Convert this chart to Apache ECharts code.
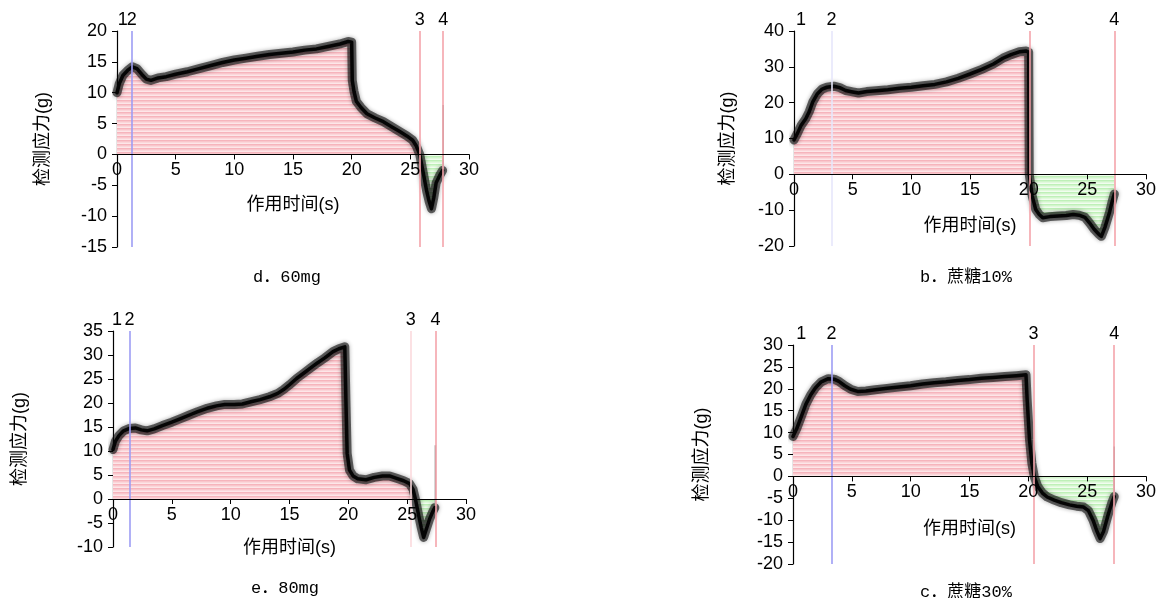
<!DOCTYPE html>
<html>
<head>
<meta charset="utf-8">
<script src="https://cdn.jsdelivr.net/npm/echarts@6/dist/echarts.min.js"></script>
<style>
  html, body { margin: 0; padding: 0; background: #fff; }
  #chart { width: 1157px; height: 598px; }
</style>
</head>
<body>
<div id="chart"></div>
<script>
// Force (g) against action time (s), one trace per sample: [time, force]
const force60mg = [
  [0, 10], [0.2, 11.5], [0.5, 12.8], [0.9, 13.6], [1.3, 14.2], [1.7, 13.9], [2.1, 13], [2.5, 12.2],
  [2.9, 12], [3.5, 12.4], [4.2, 12.6], [5, 13], [6, 13.4], [7, 13.9], [8, 14.4], [9, 14.9], [10, 15.3],
  [11, 15.6], [12, 15.9], [13, 16.2], [14, 16.4], [15, 16.6], [16, 16.9], [17, 17.1], [18, 17.5],
  [19, 17.9], [19.7, 18.3], [20, 18.2], [20.05, 12], [20.2, 10.2], [20.4, 8.6], [20.8, 7.6], [21.3, 6.6],
  [22, 5.9], [22.7, 5.3], [23.4, 4.5], [24.1, 3.7], [24.7, 3], [25.2, 2.3], [25.5, 1.4], [25.8, 0],
  [26.1, -3], [26.4, -6], [26.6, -7.6], [26.8, -8.8], [27, -7], [27.2, -4.6], [27.5, -3.4], [27.75, -2.6]
];
const sucrose10 = [
  [0, 9.6], [0.3, 11.5], [0.6, 13.6], [1.0, 15.5], [1.3, 17.5], [1.6, 20.2], [2.0, 22.5], [2.4, 23.8],
  [2.8, 24.3], [3.4, 24.6], [3.9, 24.2], [4.4, 23.4], [5, 23], [5.5, 22.7], [6.2, 23.1], [7, 23.3],
  [8, 23.6], [9, 24], [10, 24.3], [11, 24.7], [12, 25.1], [13, 25.8], [14, 26.8], [15, 28], [16, 29.3],
  [17, 30.8], [17.8, 32.4], [18.5, 33.4], [19.2, 34.2], [19.8, 34.4], [20, 34.1], [20.05, 0], [20.3, -6],
  [20.6, -9.8], [20.9, -11.2], [21.2, -12.1], [21.8, -11.8], [22.5, -11.6], [23.2, -11.5], [23.8, -11.2],
  [24.3, -11.4], [24.8, -12], [25.2, -13.6], [25.6, -15.4], [26.0, -16.8], [26.2, -17.3], [26.5, -14.8],
  [26.9, -10.5], [27.1, -7.8], [27.3, -5.5]
];
const force80mg = [
  [0, 10.3], [0.2, 12], [0.5, 13.2], [0.9, 14.2], [1.4, 14.7], [1.9, 14.8], [2.4, 14.4], [2.9, 14.2],
  [3.5, 14.6], [4.2, 15.3], [5, 16], [5.8, 16.8], [6.5, 17.5], [7.2, 18.2], [8, 18.9], [8.8, 19.4],
  [9.5, 19.7], [10.3, 19.7], [11, 19.8], [11.8, 20.3], [12.5, 20.7], [13.3, 21.3], [14, 22], [14.5, 22.8],
  [15, 23.8], [15.6, 25.1], [16.2, 26.2], [16.8, 27.3], [17.4, 28.4], [18, 29.4], [18.7, 30.7],
  [19.2, 31.3], [19.7, 31.7], [19.8, 20], [19.9, 9.5], [20.1, 6], [20.4, 4.8], [20.8, 4.2], [21.5, 4],
  [22.2, 4.5], [22.9, 4.8], [23.5, 4.8], [24.1, 4.3], [24.7, 3.8], [25.2, 3.2], [25.5, 2], [25.7, 0],
  [26.0, -3.7], [26.2, -6], [26.4, -8], [26.6, -6.5], [26.9, -4.2], [27.2, -2.5], [27.35, -1.8]
];
const sucrose30 = [
  [0, 9.1], [0.3, 10.8], [0.6, 12.9], [1.1, 16.5], [1.5, 18.6], [1.9, 20.2], [2.4, 21.6], [3.0, 22.3],
  [3.5, 22.2], [3.9, 21.7], [4.4, 20.7], [4.9, 19.9], [5.5, 19.4], [6.2, 19.5], [7, 19.8], [8, 20.1],
  [9, 20.4], [10, 20.7], [11, 21.1], [12, 21.4], [13, 21.6], [14, 21.9], [15, 22.1], [16, 22.4],
  [17, 22.6], [18, 22.8], [19, 23], [19.8, 23.2], [19.9, 17.5], [20.1, 8.4], [20.3, 3], [20.5, 0],
  [20.8, -2.3], [21.2, -3.8], [21.6, -4.7], [22.2, -5.4], [22.8, -6], [23.5, -6.5], [24.1, -6.8],
  [24.7, -7], [25.1, -7.8], [25.5, -10], [25.8, -12.3], [26.1, -14.2], [26.4, -12.5], [26.8, -8.6],
  [27.1, -6], [27.3, -4.6]
];

// Release spike recorded at the end of each run
const spike60mg = [[27.8, -2.6], [27.8, 8]];
const spike80mg = [[27.4, -1.8], [27.4, 11.2]];
const spike30 = [[27.3, -4.6], [27.3, 6.8]];

// Event markers 1-4 (time, s)
const markerNames = ['1', '2', '3', '4'];
const markers60mg = [0.5, 1.25, 25.8, 27.8];
const markers10 = [0.6, 3.2, 20.05, 27.3];
const markers80mg = [0.35, 1.4, 25.3, 27.4];
const markers30 = [0.7, 3.27, 20.45, 27.3];

// Axis ranges [min, max, interval]
const yRange60mg = [-15, 20, 5];
const yRange10 = [-20, 40, 10];
const yRange80mg = [-10, 35, 5];
const yRange30 = [-20, 30, 5];
const xRange = [0, 30, 5];

const xTitle = '作用时间(s)';
const yTitle = '检测应力(g)';
const captions = ['d．60mg', 'b．蔗糖10%', 'e．80mg', 'c．蔗糖30%'];

const FONT = '"Liberation Sans", Arial, "Noto Sans CJK SC", sans-serif';
const MONO = '"Liberation Mono", "Noto Sans CJK SC", monospace';

// striped fills for the area above / below zero
function stripes(rows) {
  const c = document.createElement('canvas');
  c.width = 4; c.height = rows.length;
  const g = c.getContext('2d');
  rows.forEach((col, i) => { g.fillStyle = col; g.fillRect(0, i, 4, 1); });
  return { image: c, repeat: 'repeat' };
}
const pinkFill = stripes(['#f6b4bc', '#f9c6cc', '#fbd6da', '#fde6e8']);
const greenFill = stripes(['#bff0b8', '#d2f6cc', '#e2f9dd', '#f1fdef']);

const BLUE = '#9d9df4', LAV = '#e6e6fb', PINK = '#f4a4ab', PALE = '#fbdadd', NONE = 'rgba(0,0,0,0)';

const panels = [
  { grid: { left: 117, top: 31, width: 352, height: 216 }, y: yRange60mg, data: force60mg, spike: spike60mg,
    markers: markers60mg, markerColors: [NONE, BLUE, PINK, PINK], gapY: 65, gapX: 42, cap: [287, 277] },
  { grid: { left: 794, top: 31, width: 352, height: 215 }, y: yRange10, data: sucrose10, spike: null,
    markers: markers10, markerColors: [NONE, LAV, PINK, PINK], gapY: 57, gapX: 43, cap: [966, 277] },
  { grid: { left: 113, top: 331, width: 353, height: 216 }, y: yRange80mg, data: force80mg, spike: spike80mg,
    markers: markers80mg, markerColors: [NONE, BLUE, PALE, PINK], gapY: 84, gapX: 40, cap: [285, 588] },
  { grid: { left: 793, top: 345, width: 353, height: 219 }, y: yRange30, data: sucrose30, spike: spike30,
    markers: markers30, markerColors: [NONE, BLUE, PINK, PINK], gapY: 82, gapX: 44, cap: [966, 592] }
];

const grids = [], xAxes = [], yAxes = [], series = [], graphics = [];

panels.forEach((p, i) => {
  grids.push(Object.assign({ containLabel: false, outerBoundsMode: 'none' }, p.grid));
  // the time axis (with its labels) sits on the zero force line
  const zeroLift = p.grid.height * (0 - p.y[0]) / (p.y[1] - p.y[0]);
  xAxes.push({
    type: 'value', gridIndex: i, min: xRange[0], max: xRange[1], interval: xRange[2],
    position: 'bottom', offset: -zeroLift,
    name: xTitle, nameLocation: 'middle', nameGap: p.gapX, nameMoveOverlap: false,
    nameTextStyle: { color: '#000', fontSize: 18, fontFamily: FONT },
    axisLine: { show: true, onZero: false, lineStyle: { color: '#000', width: 1.2 } },
    axisTick: { show: true, length: 5, lineStyle: { color: '#000' } },
    axisLabel: { color: '#000', fontSize: 18, fontFamily: FONT, margin: 7 },
    splitLine: { show: false }, z: 5
  });
  yAxes.push({
    type: 'value', gridIndex: i, min: p.y[0], max: p.y[1], interval: p.y[2],
    name: yTitle, nameLocation: 'middle', nameGap: p.gapY, nameMoveOverlap: false,
    nameTextStyle: { color: '#000', fontSize: 18, fontFamily: FONT },
    axisLine: { show: true, onZero: false, lineStyle: { color: '#000', width: 1.2 } },
    axisTick: { show: true, length: 5, lineStyle: { color: '#000' } },
    axisLabel: { color: '#000', fontSize: 18, fontFamily: FONT, margin: 10 },
    splitLine: { show: false }
  });

  const common = { type: 'line', xAxisIndex: i, yAxisIndex: i, showSymbol: false, symbol: 'none', silent: true, animation: false };
  // area above zero
  series.push(Object.assign({}, common, {
    data: p.data.map(d => [d[0], Math.max(d[1], 0)]),
    lineStyle: { width: 0, opacity: 0 },
    areaStyle: { color: pinkFill, opacity: 1 }, z: 1
  }));
  // area below zero
  series.push(Object.assign({}, common, {
    data: p.data.map(d => [d[0], Math.min(d[1], 0)]),
    lineStyle: { width: 0, opacity: 0 },
    areaStyle: { color: greenFill, opacity: 1 }, z: 1
  }));
  // soft dark band of the trace
  series.push(Object.assign({}, common, {
    data: p.data,
    lineStyle: { color: 'rgba(10,10,10,0.6)', width: 9, join: 'round', cap: 'round', shadowBlur: 4, shadowColor: 'rgba(0,0,0,0.55)' }, z: 3
  }));
  // event markers
  series.push(Object.assign({}, common, {
    data: [], z: 2,
    markLine: {
      silent: true, symbol: ['none', 'none'], animation: false,
      label: { show: true, position: 'end', formatter: '{b}', color: '#000', fontSize: 18, fontFamily: FONT, distance: 2 },
      data: p.markers.map((t, k) => ({
        name: markerNames[k], xAxis: t,
        lineStyle: { color: p.markerColors[k], width: 1.6, type: 'solid' }
      }))
    }
  }));
  // the trace itself
  series.push(Object.assign({}, common, {
    data: p.data,
    lineStyle: { color: '#050505', width: 3.5, join: 'round', cap: 'round' }, z: 4
  }));
  if (p.spike) {
    series.push(Object.assign({}, common, {
      data: p.spike, lineStyle: { color: '#8c8c8c', width: 1.5 }, z: 3
    }));
  }
  graphics.push({
    type: 'text', x: p.cap[0], y: p.cap[1], silent: true,
    style: { text: captions[i], fill: '#000', font: '17px ' + MONO, align: 'center', verticalAlign: 'middle' }
  });
});

const chart = echarts.init(document.getElementById('chart'), null, { renderer: 'canvas' });
chart.setOption({
  animation: false,
  backgroundColor: '#fff',
  textStyle: { fontFamily: FONT },
  grid: grids, xAxis: xAxes, yAxis: yAxes, series: series,
  graphic: graphics
});
</script>
</body>
</html>
